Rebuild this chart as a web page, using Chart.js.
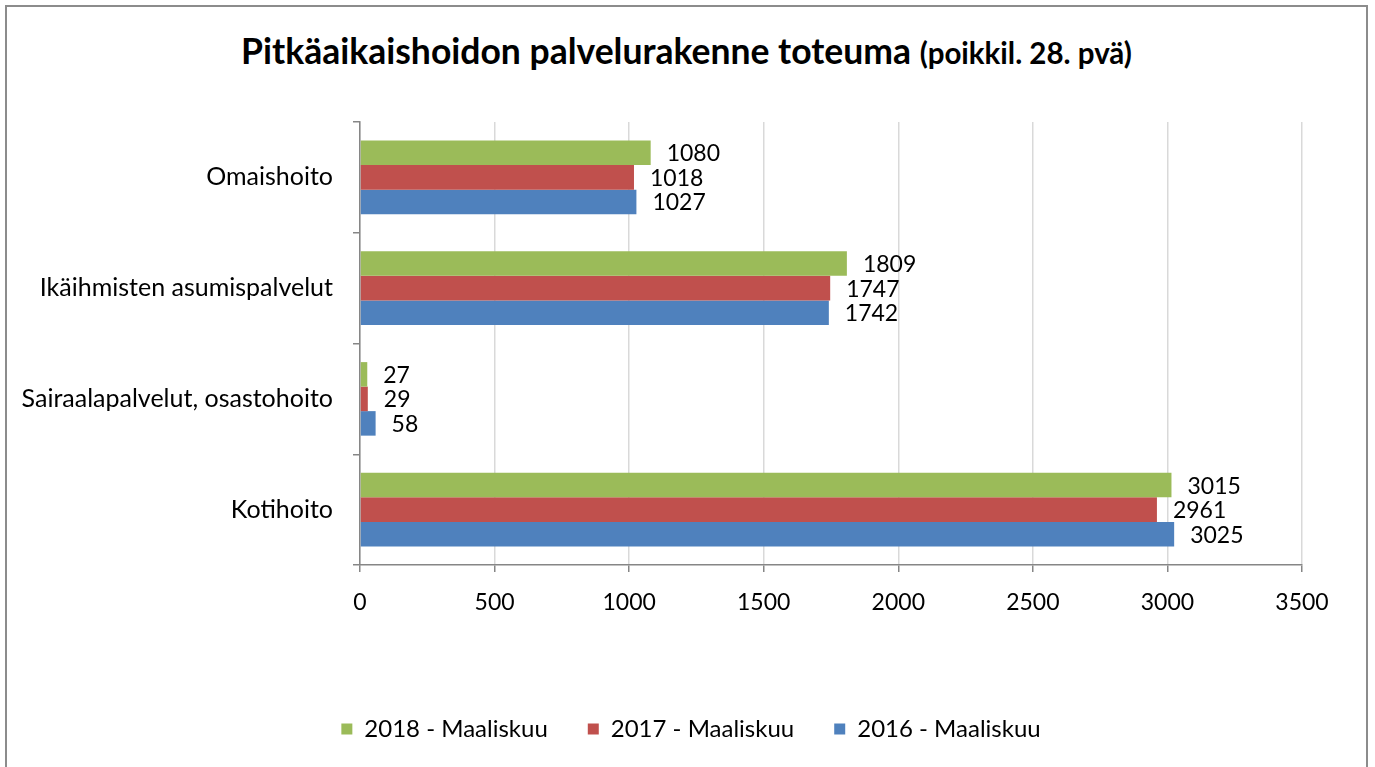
<!DOCTYPE html>
<html lang="fi">
<head>
<meta charset="utf-8">
<title>Pitkäaikaishoidon palvelurakenne toteuma</title>
<script src="https://cdn.jsdelivr.net/npm/chart.js@4/dist/chart.umd.min.js"></script>
<style>
  body { margin: 0; background: #fff; overflow: hidden; }
  .frame {
    position: absolute; left: 5px; top: 5px; width: 1363px; height: 800px;
    border: 2px solid #8c8c8c; box-sizing: border-box;
  }
  .otsikko {
    position: absolute; left: 0; top: 29px; width: 1373px; text-align: center;
    font-family: Lato, sans-serif; font-weight: bold; color: #000;
    font-size: 35.5px; line-height: 44px; white-space: nowrap;
  }
  .otsikko small { font-size: 29.5px; }
  canvas { position: absolute; left: 0; top: 0; }
</style>
</head>
<body>
<div class="frame"></div>
<div class="otsikko">Pitkäaikaishoidon palvelurakenne toteuma <small>(poikkil. 28. pvä)</small></div>
<canvas id="palvelut" width="1375" height="767"></canvas>
<script>
// palvelumuodot ylhäältä alas
const kategoriat = ['Omaishoito', 'Ikäihmisten asumispalvelut', 'Sairaalapalvelut, osastohoito', 'Kotihoito'];

// asiakasmäärät maaliskuussa
const v2018 = [1080, 1809, 27, 3015];
const v2017 = [1018, 1747, 29, 2961];
const v2016 = [1027, 1742, 58, 3025];

const xTicks = [0, 500, 1000, 1500, 2000, 2500, 3000, 3500];

Chart.defaults.font.family = 'Lato, sans-serif';
Chart.defaults.color = '#000';

// arvot palkkien perään
const arvoTekstit = {
  id: 'arvoTekstit',
  afterDatasetsDraw(chart) {
    const ctx = chart.ctx;
    ctx.save();
    ctx.font = '23px Lato, sans-serif';
    ctx.fillStyle = '#000';
    ctx.textAlign = 'left';
    ctx.textBaseline = 'middle';
    chart.data.datasets.forEach((ds, i) => {
      chart.getDatasetMeta(i).data.forEach((bar, j) => {
        ctx.fillText(ds.data[j], bar.x + 16, bar.y + 1);
      });
    });
    ctx.restore();
  }
};

// selite hieman oikealle, koko kuvan keskelle
const seliteKeskelle = {
  id: 'seliteKeskelle',
  afterLayout(chart) {
    if (chart.legend) chart.legend.left += 80;
  }
};

new Chart(document.getElementById('palvelut').getContext('2d'), {
  type: 'bar',
  data: {
    labels: kategoriat,
    datasets: [
      { label: '2018 - Maaliskuu', data: v2018, backgroundColor: '#9bbb59' },
      { label: '2017 - Maaliskuu', data: v2017, backgroundColor: '#c0504d' },
      { label: '2016 - Maaliskuu', data: v2016, backgroundColor: '#4f81bd' }
    ]
  },
  options: {
    indexAxis: 'y',
    responsive: false,
    animation: false,
    categoryPercentage: 0.664,
    barPercentage: 1,
    layout: { padding: { top: 122, left: 0, right: 73, bottom: 16 } },
    plugins: {
      title: { display: false },
      tooltip: { enabled: false },
      legend: {
        position: 'bottom',
        labels: { boxWidth: 11, boxHeight: 11, padding: 40, font: { size: 24 } }
      }
    },
    scales: {
      x: {
        min: 0,
        max: 3500,
        afterBuildTicks: (scale) => { scale.ticks = xTicks.map(v => ({ value: v })); },
        afterFit: (scale) => { scale.height = 112; },
        grid: { color: '#d9d9d9', tickColor: '#868686', tickLength: 7, lineWidth: 1.5 },
        border: { color: '#868686', width: 1.5 },
        ticks: { font: { size: 23 }, padding: 17, maxRotation: 0, callback: (v) => String(v) }
      },
      y: {
        afterFit: (scale) => { scale.width = 360; },
        grid: { drawOnChartArea: false, tickColor: '#868686', tickLength: 7, lineWidth: 1.5 },
        border: { color: '#868686', width: 1.5 },
        ticks: { font: { size: 25 }, padding: 20 }
      }
    }
  },
  plugins: [arvoTekstit, seliteKeskelle]
});
</script>
</body>
</html>
